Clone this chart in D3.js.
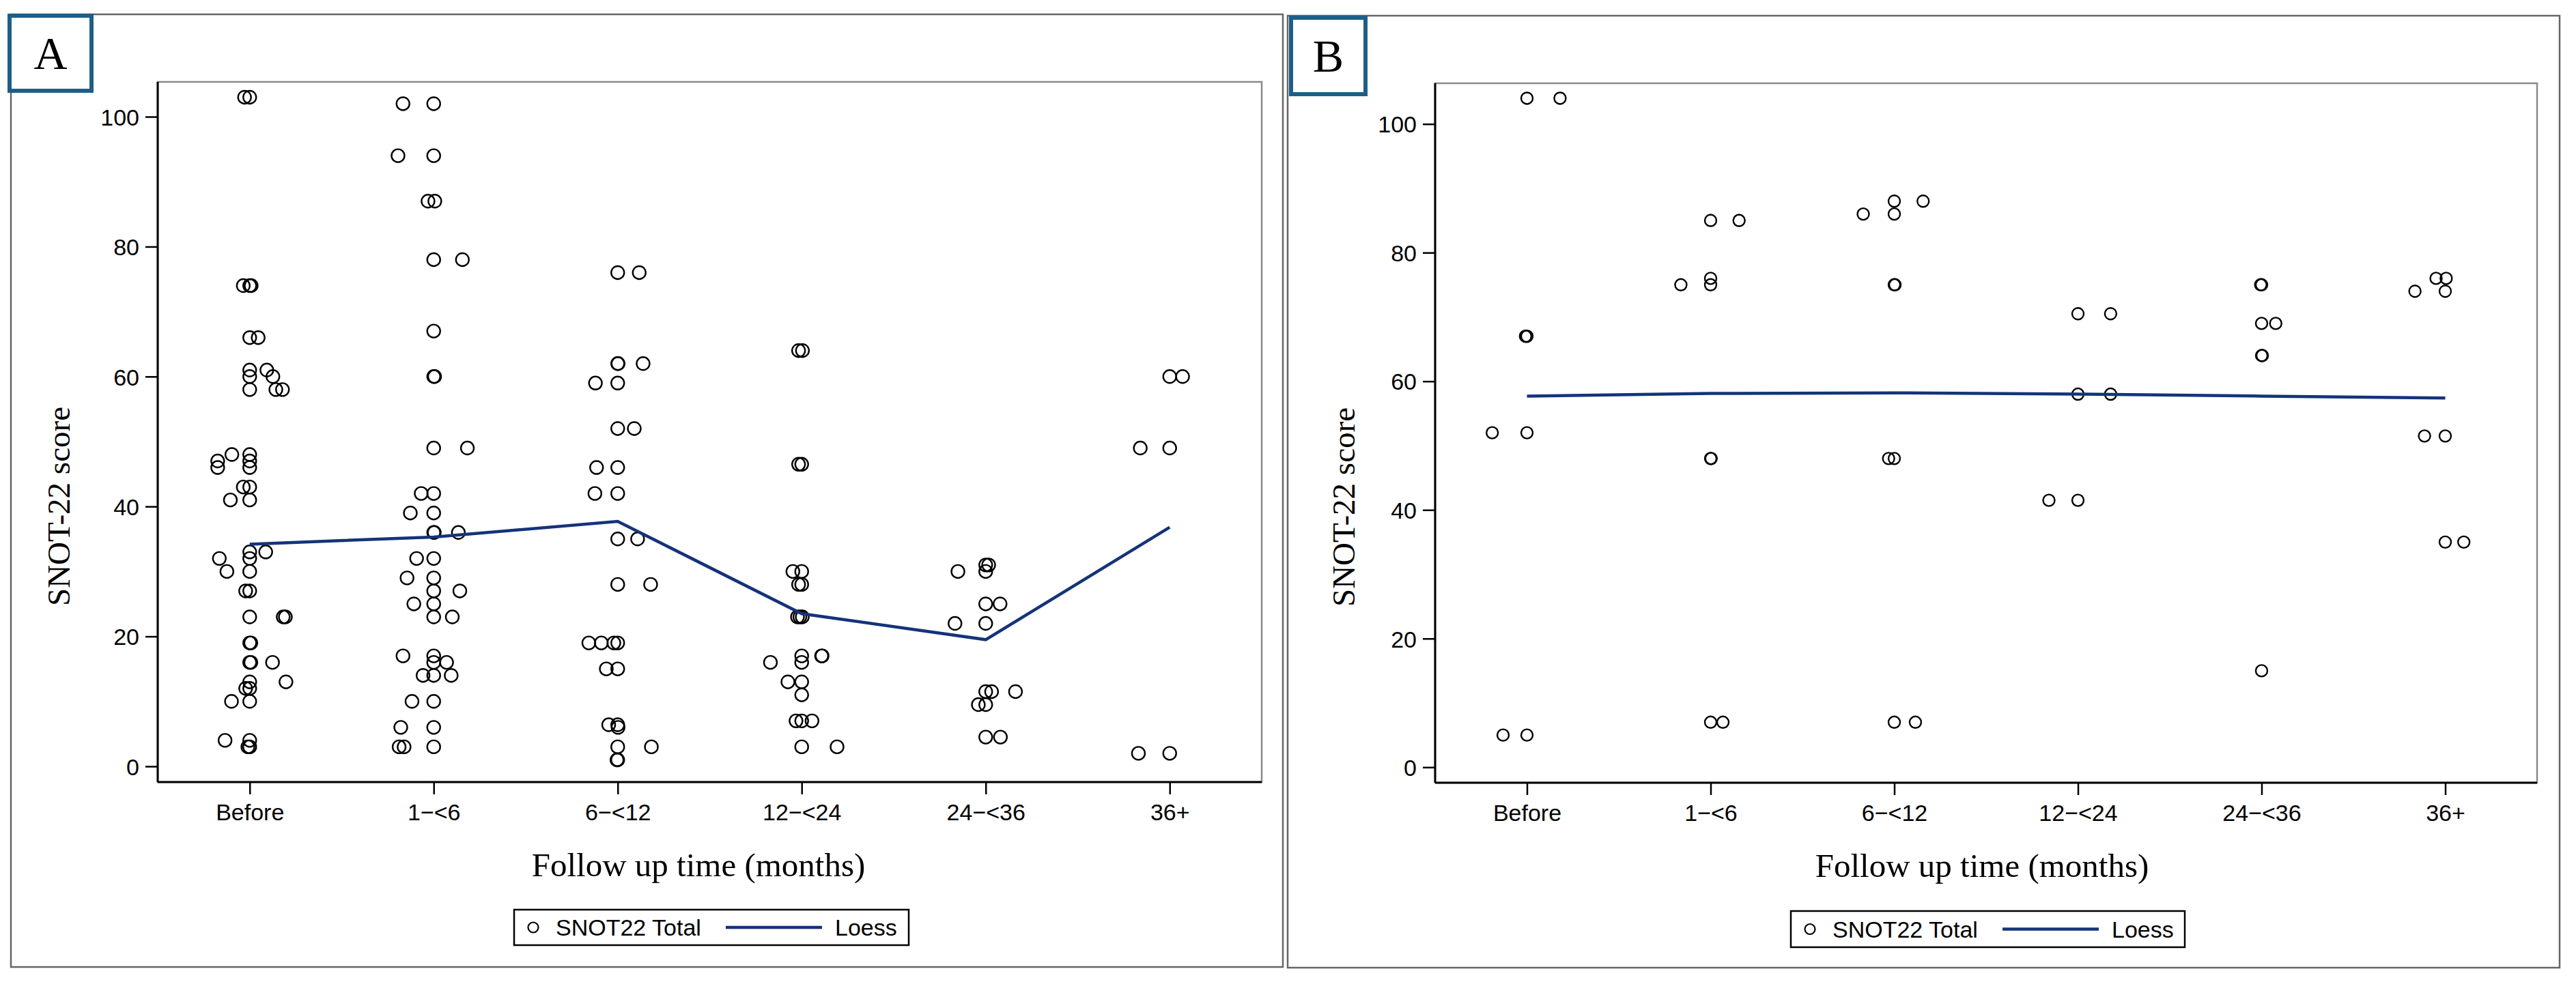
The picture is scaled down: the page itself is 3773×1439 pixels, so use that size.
<!DOCTYPE html>
<html>
<head>
<meta charset="utf-8">
<script src="https://cdn.jsdelivr.net/npm/d3@7"></script>
<style>
  html, body { margin: 0; padding: 0; background: #fff; }
  svg { display: block; }
</style>
</head>
<body>
<svg id="chart" width="3773" height="1439"></svg>
<script>
const categories = ['Before', '1\u2212<6', '6\u2212<12', '12\u2212<24', '24\u2212<36', '36+'];
const yTicks = [0, 20, 40, 60, 80, 100];
const yTitle = 'SNOT-22 score';
const xTitle = 'Follow up time (months)';
const legendLabels = ['SNOT22 Total', 'Loess'];

// [category, score, horizontal jitter as fraction of the category step]
const scoresA = [
    ['Before', 103, -0.028], ['Before', 103, 0],
    ['Before', 74, -0.035], ['Before', 74, 0], ['Before', 74, 0.008],
    ['Before', 66, 0], ['Before', 66, 0.046],
    ['Before', 61, 0], ['Before', 61, 0.093],
    ['Before', 60, 0], ['Before', 60, 0.126],
    ['Before', 58, 0], ['Before', 58, 0.142], ['Before', 58, 0.178],
    ['Before', 48, -0.097], ['Before', 48, 0],
    ['Before', 47, -0.174], ['Before', 47, 0],
    ['Before', 46, -0.174], ['Before', 46, 0],
    ['Before', 43, -0.035], ['Before', 43, 0],
    ['Before', 41, -0.105], ['Before', 41, 0],
    ['Before', 33, 0], ['Before', 33, 0.087],
    ['Before', 32, -0.165], ['Before', 32, 0],
    ['Before', 30, -0.124], ['Before', 30, 0],
    ['Before', 27, -0.022], ['Before', 27, 0],
    ['Before', 23, 0], ['Before', 23, 0.182], ['Before', 23, 0.194],
    ['Before', 19, 0], ['Before', 19, 0.006],
    ['Before', 16, 0], ['Before', 16, 0.006], ['Before', 16, 0.124],
    ['Before', 13, 0], ['Before', 13, 0.197],
    ['Before', 12, -0.022], ['Before', 12, 0],
    ['Before', 10, -0.099], ['Before', 10, 0],
    ['Before', 4, -0.134], ['Before', 4, 0],
    ['Before', 3, -0.01], ['Before', 3, 0],

    ['1\u2212<6', 102, -0.167], ['1\u2212<6', 102, 0],
    ['1\u2212<6', 94, -0.194], ['1\u2212<6', 94, 0],
    ['1\u2212<6', 87, -0.031], ['1\u2212<6', 87, 0.006],
    ['1\u2212<6', 78, 0], ['1\u2212<6', 78, 0.156],
    ['1\u2212<6', 67, 0],
    ['1\u2212<6', 60, 0], ['1\u2212<6', 60, 0.005],
    ['1\u2212<6', 49, 0], ['1\u2212<6', 49, 0.183],
    ['1\u2212<6', 42, -0.068], ['1\u2212<6', 42, 0],
    ['1\u2212<6', 39, -0.127], ['1\u2212<6', 39, 0],
    ['1\u2212<6', 36, 0], ['1\u2212<6', 36, 0.003], ['1\u2212<6', 36, 0.134],
    ['1\u2212<6', 32, -0.093], ['1\u2212<6', 32, 0],
    ['1\u2212<6', 29, -0.145], ['1\u2212<6', 29, 0],
    ['1\u2212<6', 27, 0], ['1\u2212<6', 27, 0.142],
    ['1\u2212<6', 25, -0.108], ['1\u2212<6', 25, 0],
    ['1\u2212<6', 23, 0], ['1\u2212<6', 23, 0.101],
    ['1\u2212<6', 17, -0.167], ['1\u2212<6', 17, 0],
    ['1\u2212<6', 16, 0], ['1\u2212<6', 16, 0.07],
    ['1\u2212<6', 14, -0.058], ['1\u2212<6', 14, 0], ['1\u2212<6', 14, 0.095],
    ['1\u2212<6', 10, -0.118], ['1\u2212<6', 10, 0],
    ['1\u2212<6', 6, -0.179], ['1\u2212<6', 6, 0],
    ['1\u2212<6', 3, -0.188], ['1\u2212<6', 3, -0.161], ['1\u2212<6', 3, 0],

    ['6\u2212<12', 76, 0], ['6\u2212<12', 76, 0.117],
    ['6\u2212<12', 62, 0], ['6\u2212<12', 62, 0.002], ['6\u2212<12', 62, 0.138],
    ['6\u2212<12', 59, -0.121], ['6\u2212<12', 59, 0],
    ['6\u2212<12', 52, 0], ['6\u2212<12', 52, 0.09],
    ['6\u2212<12', 46, -0.115], ['6\u2212<12', 46, 0],
    ['6\u2212<12', 42, -0.124], ['6\u2212<12', 42, 0],
    ['6\u2212<12', 35, 0], ['6\u2212<12', 35, 0.108],
    ['6\u2212<12', 28, 0], ['6\u2212<12', 28, 0.179],
    ['6\u2212<12', 19, -0.157], ['6\u2212<12', 19, -0.089], ['6\u2212<12', 19, -0.021], ['6\u2212<12', 19, 0],
    ['6\u2212<12', 15, -0.062], ['6\u2212<12', 15, 0],
    ['6\u2212<12', 6.4, -0.049], ['6\u2212<12', 6.4, 0], ['6\u2212<12', 6, 0.002],
    ['6\u2212<12', 3, 0], ['6\u2212<12', 3, 0.183],
    ['6\u2212<12', 1, -0.004], ['6\u2212<12', 1, 0],

    ['12\u2212<24', 64, -0.017], ['12\u2212<24', 64, 0.004],
    ['12\u2212<24', 46.5, -0.017], ['12\u2212<24', 46.5, 0],
    ['12\u2212<24', 30, -0.048], ['12\u2212<24', 30, 0],
    ['12\u2212<24', 28, -0.017], ['12\u2212<24', 28, 0],
    ['12\u2212<24', 23, -0.023], ['12\u2212<24', 23, -0.01], ['12\u2212<24', 23, 0.003],
    ['12\u2212<24', 17, 0], ['12\u2212<24', 17, 0.108], ['12\u2212<24', 17, 0.111],
    ['12\u2212<24', 16, -0.17], ['12\u2212<24', 16, 0],
    ['12\u2212<24', 13, -0.075], ['12\u2212<24', 13, 0],
    ['12\u2212<24', 11, 0],
    ['12\u2212<24', 7, -0.031], ['12\u2212<24', 7, 0], ['12\u2212<24', 7, 0.056],
    ['12\u2212<24', 3, 0], ['12\u2212<24', 3, 0.192],

    ['24\u2212<36', 31, 0], ['24\u2212<36', 31, 0.016],
    ['24\u2212<36', 30, -0.151], ['24\u2212<36', 30, 0],
    ['24\u2212<36', 25, 0], ['24\u2212<36', 25, 0.078],
    ['24\u2212<36', 22, -0.167], ['24\u2212<36', 22, 0],
    ['24\u2212<36', 11.5, 0], ['24\u2212<36', 11.5, 0.032], ['24\u2212<36', 11.5, 0.162],
    ['24\u2212<36', 9.5, -0.04], ['24\u2212<36', 9.5, 0],
    ['24\u2212<36', 4.5, 0], ['24\u2212<36', 4.5, 0.08],

    ['36+', 60, 0], ['36+', 60, 0.07],
    ['36+', 49, -0.16], ['36+', 49, 0],
    ['36+', 2, -0.17], ['36+', 2, 0]
];

const scoresB = [
    ['Before', 104, 0], ['Before', 104, 0.18],
    ['Before', 67, -0.008], ['Before', 67, 0],
    ['Before', 52, -0.189], ['Before', 52, 0],
    ['Before', 5, -0.13], ['Before', 5, 0],

    ['1\u2212<6', 85, 0], ['1\u2212<6', 85, 0.155],
    ['1\u2212<6', 76, 0],
    ['1\u2212<6', 75, -0.162], ['1\u2212<6', 75, 0],
    ['1\u2212<6', 48, 0], ['1\u2212<6', 48, 0.003],
    ['1\u2212<6', 7, 0], ['1\u2212<6', 7, 0.067],

    ['6\u2212<12', 88, 0], ['6\u2212<12', 88, 0.157],
    ['6\u2212<12', 86, -0.169], ['6\u2212<12', 86, 0],
    ['6\u2212<12', 75, 0], ['6\u2212<12', 75, 0.004],
    ['6\u2212<12', 48, -0.031], ['6\u2212<12', 48, 0],
    ['6\u2212<12', 7, 0], ['6\u2212<12', 7, 0.115],

    ['12\u2212<24', 70.5, 0], ['12\u2212<24', 70.5, 0.178],
    ['12\u2212<24', 58, 0], ['12\u2212<24', 58, 0.178],
    ['12\u2212<24', 41.5, -0.158], ['12\u2212<24', 41.5, 0],

    ['24\u2212<36', 75, -0.005], ['24\u2212<36', 75, 0],
    ['24\u2212<36', 69, 0], ['24\u2212<36', 69, 0.077],
    ['24\u2212<36', 64, 0], ['24\u2212<36', 64, 0.004],
    ['24\u2212<36', 15, 0],

    ['36+', 76, -0.05], ['36+', 76, 0.005],
    ['36+', 74, -0.165], ['36+', 74, 0],
    ['36+', 51.5, -0.113], ['36+', 51.5, 0],
    ['36+', 35, 0], ['36+', 35, 0.101]
];

const loessA = [34.2, 35.3, 37.7, 23.5, 19.5, 36.8];
const loessB = [57.7, 58.1, 58.2, 58.0, 57.7, 57.4];

const loessColor = '#14337a';
const badgeColor = '#1d5e89';
const sansFont = '"Liberation Sans", Arial, sans-serif';
const serifFont = '"Liberation Serif", "Times New Roman", serif';

const panels = [
    { letter: 'A', scores: scoresA, loess: loessA,
      frame: { x0: 16, y0: 21, x1: 1879, y1: 1417 },
      badge: { x0: 14, y0: 23, x1: 134, y1: 133 },
      plot: { left: 231, right: 1848, top: 120, bottom: 1146 },
      yDomain: [-2.42, 105.36], radius: 9.5,
      yTitleX: 102, yTitleY: 742, xTitleX: 1023, xTitleY: 1284,
      legend: { x: 753, y: 1333, w: 578, h: 52 } },
    { letter: 'B', scores: scoresB, loess: loessB,
      frame: { x0: 1886, y0: 23, x1: 3749, y1: 1418 },
      badge: { x0: 1891, y0: 26, x1: 2000, y1: 138 },
      plot: { left: 2102, right: 3716, top: 122, bottom: 1147 },
      yDomain: [-2.41, 106.33], radius: 8.5,
      yTitleX: 1984, yTitleY: 743, xTitleX: 2903, xTitleY: 1285,
      legend: { x: 2623, y: 1335, w: 577, h: 53 } }
];

const svg = d3.select('#chart');

svg.append('rect')
    .attr('width', 3773).attr('height', 1439)
    .attr('fill', '#fff');

const drawPanel = (panel) => {
    const g = svg.append('g').attr('class', `panel-${panel.letter}`);
    const p = panel.plot;

    // outer frame
    g.append('rect')
        .attr('x', panel.frame.x0).attr('y', panel.frame.y0)
        .attr('width', panel.frame.x1 - panel.frame.x0)
        .attr('height', panel.frame.y1 - panel.frame.y0)
        .attr('fill', 'none')
        .attr('stroke', '#666')
        .attr('stroke-width', 2.5);

    const x = d3.scalePoint().domain(categories).range([p.left, p.right]).padding(0.5);
    const y = d3.scaleLinear().domain(panel.yDomain).range([p.bottom, p.top]);

    // plot area border (top/right are lighter)
    g.append('rect')
        .attr('x', p.left).attr('y', p.top)
        .attr('width', p.right - p.left).attr('height', p.bottom - p.top)
        .attr('fill', 'none')
        .attr('stroke', '#8a8a8a')
        .attr('stroke-width', 2.5);

    const yAxis = d3.axisLeft(y).tickValues(yTicks).tickSize(18).tickPadding(9);
    const xAxis = d3.axisBottom(x).tickSize(18).tickPadding(14);

    const yG = g.append('g')
        .attr('transform', `translate(${p.left},0)`)
        .call(yAxis);
    const xG = g.append('g')
        .attr('transform', `translate(0,${p.bottom})`)
        .call(xAxis);

    [yG, xG].forEach(axisG => {
        axisG.select('.domain').remove();
        axisG.selectAll('.tick line').attr('stroke', '#000').attr('stroke-width', 2.5);
        axisG.selectAll('.tick text')
            .attr('fill', '#000')
            .style('font-family', sansFont)
            .style('font-size', '34px');
    });
    yG.selectAll('.tick text').attr('dy', '0.36em');
    xG.selectAll('.tick text').attr('dy', '0.72em');

    // axis lines
    g.append('line')
        .attr('x1', p.left).attr('x2', p.left)
        .attr('y1', p.top).attr('y2', p.bottom)
        .attr('stroke', '#000').attr('stroke-width', 3);
    g.append('line')
        .attr('x1', p.left).attr('x2', p.right)
        .attr('y1', p.bottom).attr('y2', p.bottom)
        .attr('stroke', '#000').attr('stroke-width', 3);

    // points
    g.append('g').selectAll('circle')
        .data(panel.scores)
        .enter()
        .append('circle')
        .attr('cx', d => x(d[0]) + d[2] * x.step())
        .attr('cy', d => y(d[1]))
        .attr('r', panel.radius)
        .attr('fill', 'none')
        .attr('stroke', '#000')
        .attr('stroke-width', 2.4);

    // loess curve
    const line = d3.line()
        .x((d, i) => x(categories[i]))
        .y(d => y(d));
    g.append('path')
        .datum(panel.loess)
        .attr('d', line)
        .attr('fill', 'none')
        .attr('stroke', loessColor)
        .attr('stroke-width', 4.5);

    // titles
    g.append('text')
        .attr('transform', `translate(${panel.yTitleX},${panel.yTitleY}) rotate(-90)`)
        .attr('text-anchor', 'middle')
        .style('font-family', serifFont)
        .style('font-size', '47px')
        .text(yTitle);

    g.append('text')
        .attr('x', panel.xTitleX).attr('y', panel.xTitleY)
        .attr('text-anchor', 'middle')
        .style('font-family', serifFont)
        .style('font-size', '49px')
        .text(xTitle);

    // legend
    const lg = panel.legend;
    const legend = g.append('g').attr('transform', `translate(${lg.x},${lg.y})`);
    legend.append('rect')
        .attr('width', lg.w).attr('height', lg.h)
        .attr('fill', '#fff')
        .attr('stroke', '#000')
        .attr('stroke-width', 2.5);
    legend.append('circle')
        .attr('cx', 28).attr('cy', lg.h / 2)
        .attr('r', 7.5)
        .attr('fill', 'none')
        .attr('stroke', '#000')
        .attr('stroke-width', 2.2);
    legend.append('text')
        .attr('x', 61).attr('y', lg.h / 2 + 12)
        .style('font-family', sansFont)
        .style('font-size', '34px')
        .text(legendLabels[0]);
    legend.append('line')
        .attr('x1', 310).attr('x2', 451)
        .attr('y1', lg.h / 2).attr('y2', lg.h / 2)
        .attr('stroke', loessColor)
        .attr('stroke-width', 4.5);
    legend.append('text')
        .attr('x', 470).attr('y', lg.h / 2 + 12)
        .style('font-family', sansFont)
        .style('font-size', '34px')
        .text(legendLabels[1]);

    // panel letter badge
    const b = panel.badge;
    g.append('rect')
        .attr('x', b.x0).attr('y', b.y0)
        .attr('width', b.x1 - b.x0).attr('height', b.y1 - b.y0)
        .attr('fill', '#fff')
        .attr('stroke', badgeColor)
        .attr('stroke-width', 6);
    g.append('text')
        .attr('x', (b.x0 + b.x1) / 2)
        .attr('y', (b.y0 + b.y1) / 2 + 23)
        .attr('text-anchor', 'middle')
        .style('font-family', serifFont)
        .style('font-size', '68px')
        .text(panel.letter);
}

panels.forEach(drawPanel);
</script>
</body>
</html>
